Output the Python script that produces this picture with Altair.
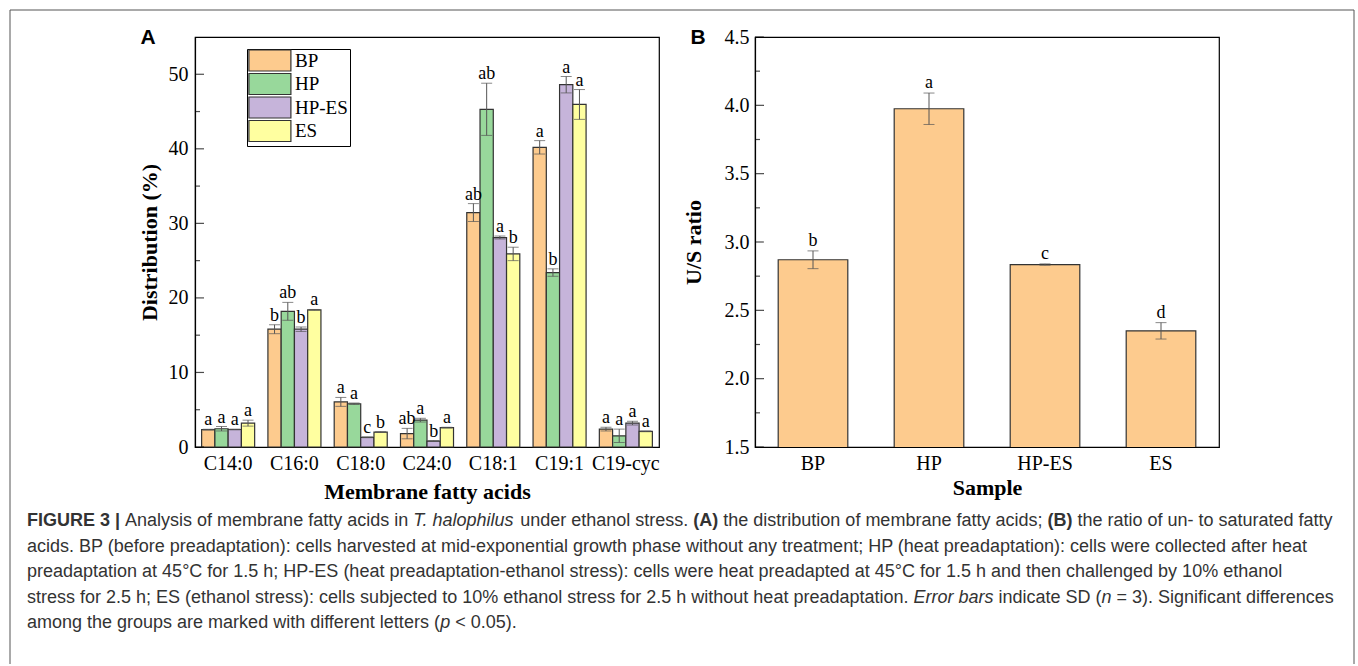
import altair as alt
import pandas as pd

# ---------------- data (panel A) ----------------
categories = ["C14:0", "C16:0", "C18:0", "C24:0", "C18:1", "C19:1", "C19-cyc"]
groups = ["BP", "HP", "HP-ES", "ES"]
colors = ["#FDCB8E", "#98D89B", "#C6B4DA", "#FFFFA0"]

bp_vals = [2.33, 15.8, 6.05, 1.8, 31.45, 40.2, 2.4]
bp_sd = [0.05, 0.6, 0.6, 0.7, 1.2, 0.9, 0.25]
hp_vals = [2.45, 18.2, 5.8, 3.6, 45.3, 23.4, 1.5]
hp_sd = [0.3, 1.2, 0.1, 0.25, 3.5, 0.5, 0.9]
hpes_vals = [2.35, 15.8, 1.3, 0.8, 28.1, 48.6, 3.2]
hpes_sd = [0.05, 0.3, 0.05, 0.05, 0.2, 1.1, 0.25]
es_vals = [3.2, 18.4, 2.0, 2.6, 25.9, 45.95, 2.1]
es_sd = [0.4, 0.05, 0.05, 0.05, 0.9, 2.0, 0.05]

bp_letters = ["a", "b", "a", "ab", "ab", "a", "a"]
hp_letters = ["a", "ab", "a", "a", "ab", "b", "a"]
hpes_letters = ["a", "b", "c", "b", "a", "a", "a"]
es_letters = ["a", "a", "b", "a", "b", "a", "a"]

yA_ticks = [0, 5, 10, 15, 20, 25, 30, 35, 40, 45, 50]

# ---------------- data (panel B) ----------------
samples = ["BP", "HP", "HP-ES", "ES"]
us_ratio = [2.87, 3.975, 2.835, 2.35]
us_sd = [0.065, 0.115, 0.005, 0.06]
us_letters = ["b", "a", "c", "d"]
yB_ticks = [1.5, 1.75, 2.0, 2.25, 2.5, 2.75, 3.0, 3.25, 3.5, 3.75, 4.0, 4.25, 4.5]

# ---------------- caption ----------------
caption_lines = [
    [("b", "FIGURE 3 |"), ("r", " Analysis of membrane fatty acids in "), ("i", "T. halophilus"),
     ("r", " under ethanol stress. "), ("b", "(A)"), ("r", " the distribution of membrane fatty acids; "),
     ("b", "(B)"), ("r", " the ratio of un- to saturated fatty")],
    [("r", "acids. BP (before preadaptation): cells harvested at mid-exponential growth phase without any treatment; HP (heat preadaptation): cells were collected after heat")],
    [("r", "preadaptation at 45\u00b0C for 1.5 h; HP-ES (heat preadaptation-ethanol stress): cells were heat preadapted at 45\u00b0C for 1.5 h and then challenged by 10% ethanol")],
    [("r", "stress for 2.5 h; ES (ethanol stress): cells subjected to 10% ethanol stress for 2.5 h without heat preadaptation. "),
     ("i", "Error bars"), ("r", " indicate SD ("), ("i", "n"), ("r", " = 3). Significant differences")],
    [("r", "among the groups are marked with different letters ("), ("i", "p"), ("r", " < 0.05).")],
]

# Arial / Liberation Sans advance widths (per 1000 em) used to lay out mixed-style caption runs
W_REG = {" ": 278, "%": 889, "(": 333, ")": 333, ",": 278, "-": 333, ".": 278, ":": 278, ";": 278,
         "<": 584, "=": 584, "|": 260, "\u00b0": 400,
         "A": 667, "B": 667, "C": 722, "D": 722, "E": 667, "F": 611, "G": 778, "H": 722, "I": 278,
         "P": 667, "R": 722, "S": 667, "T": 611, "U": 722,
         "a": 556, "b": 556, "c": 500, "d": 556, "e": 556, "f": 278, "g": 556, "h": 556, "i": 222,
         "j": 222, "k": 500, "l": 222, "m": 833, "n": 556, "o": 556, "p": 556, "q": 556, "r": 333,
         "s": 500, "t": 278, "u": 556, "v": 500, "w": 722, "x": 500, "y": 500, "z": 500}
W_BOLD = {" ": 278, "(": 333, ")": 333, "|": 280, "A": 722, "B": 722, "E": 667, "F": 611, "G": 778,
          "I": 278, "R": 722, "U": 722}


def run_width(s, style, fs):
    tab = W_BOLD if style == "b" else W_REG
    return sum(tab.get(ch, 556) for ch in s) * fs / 1000.0


# ---------------- layout constants (pixels) ----------------
PW, PH = 464, 410            # plot area of each panel
A_LEFT, A_TOP = 193, 35      # absolute origin of panel A plot area
CAP_FS = 18
CAP_X0 = 25
CAP_BASE = [524, 550, 575, 601, 626]

serif = "Liberation Serif"
sans = "Liberation Sans"

# ---------------- panel A ----------------
rows = []
for g, vals, sds, lets in [("BP", bp_vals, bp_sd, bp_letters), ("HP", hp_vals, hp_sd, hp_letters),
                           ("HP-ES", hpes_vals, hpes_sd, hpes_letters), ("ES", es_vals, es_sd, es_letters)]:
    for c, v, s, l in zip(categories, vals, sds, lets):
        rows.append(dict(cat=c, grp=g, val=v, lo=v - s, hi=v + s, letter=l))
dfA = pd.DataFrame(rows)

yscaleA = alt.Scale(domain=[0, 55], nice=False, zero=True)
xA_axis = alt.Axis(title="Membrane fatty acids", labelAngle=0, ticks=False, tickSize=0, labelPadding=6,
                   titleY=44, titleBaseline="middle", titlePadding=0)
yA_axis = alt.Axis(title="Distribution (%)", values=[0, 10, 20, 30, 40, 50], ticks=False, tickSize=0,
                   labelPadding=7, titleX=-46, titleY=PH / 2, titleAngle=270, titleBaseline="middle")

xA = alt.X("cat:N", sort=categories, scale=alt.Scale(paddingInner=0.2, paddingOuter=0.1), axis=xA_axis)
xA_plain = alt.X("cat:N", sort=categories)
xoffA = alt.XOffset("grp:N", sort=groups, scale=alt.Scale(paddingInner=0, paddingOuter=0))

baseA = alt.Chart(dfA)
barsA = baseA.mark_bar(stroke="#333333", strokeWidth=1.2).encode(
    x=xA, xOffset=xoffA,
    y=alt.Y("val:Q", scale=yscaleA, axis=yA_axis),
    color=alt.Color("grp:N", sort=groups, scale=alt.Scale(domain=groups, range=colors),
                    legend=alt.Legend(title=None, orient="none", legendX=52, legendY=12,
                                      direction="vertical", symbolType="M-1.6,-1.75H5.4V1.75H-1.6Z",
                                      symbolSize=144, symbolStrokeColor="#333333",
                                      symbolStrokeWidth=1.2, symbolOpacity=1,
                                      labelFont=serif, labelFontSize=19, labelColor="black",
                                      labelOffset=27, rowPadding=-3.5, padding=2,
                                      strokeColor="black", fillColor="white")),
)
errA = baseA.mark_rule(color="#555555", strokeWidth=1).encode(
    x=xA_plain, xOffset=xoffA, y=alt.Y("lo:Q", title="Distribution (%)"), y2="hi:Q")
capHiA = baseA.mark_tick(color="#555555", thickness=1, size=11).encode(
    x=xA_plain, xOffset=xoffA, y=alt.Y("hi:Q", title="Distribution (%)"))
capLoA = baseA.mark_tick(color="#555555", thickness=1, size=11).encode(
    x=xA_plain, xOffset=xoffA, y=alt.Y("lo:Q", title="Distribution (%)"))
letA = baseA.mark_text(font=serif, fontSize=18, baseline="bottom", dy=0, color="black").encode(
    x=xA_plain, xOffset=xoffA, y=alt.Y("hi:Q", title="Distribution (%)"), text="letter:N")

dfTA = pd.DataFrame({"val": yA_ticks})
majTA = alt.Chart(dfTA[dfTA.val % 10 == 0]).mark_tick(orient="horizontal", size=9, thickness=1.2,
                                                       color="black").encode(
    y=alt.Y("val:Q", title="Distribution (%)"), x=alt.value(4.5))
minTA = alt.Chart(dfTA[dfTA.val % 10 != 0]).mark_tick(orient="horizontal", size=5, thickness=1.2,
                                                       color="black").encode(
    y=alt.Y("val:Q", title="Distribution (%)"), x=alt.value(2.5))

one = pd.DataFrame({"k": [0]})
labelA = alt.Chart(one).mark_text(font=sans, fontSize=21, fontWeight="bold", align="center",
                                  baseline="middle", color="black").encode(
    x=alt.value(-47), y=alt.value(1), text=alt.value("A"))

# outer frame (relative to panel A plot origin)
fr = dict(color="#555555", strokeWidth=1)
frame = [
    alt.Chart(one).mark_rule(**fr).encode(x=alt.value(8 - A_LEFT), y=alt.value(8 - A_TOP), y2=alt.value(662 - A_TOP)),
    alt.Chart(one).mark_rule(**fr).encode(x=alt.value(8 - A_LEFT), x2=alt.value(1352 - A_LEFT), y=alt.value(8 - A_TOP)),
    alt.Chart(one).mark_rule(**fr).encode(x=alt.value(1352 - A_LEFT), y=alt.value(8 - A_TOP), y2=alt.value(662 - A_TOP)),
]

# caption runs
caption_layers = []
for line, base in zip(caption_lines, CAP_BASE):
    x = CAP_X0
    for style, s in line:
        lead = len(s) - len(s.lstrip(" "))
        txt = s.strip(" ")
        x_txt = x + run_width(" " * lead, style, CAP_FS)
        kw = dict(font=sans, fontSize=CAP_FS, align="left", baseline="alphabetic", color="#333333")
        if style == "b":
            kw["fontWeight"] = "bold"
        if style == "i":
            kw["fontStyle"] = "italic"
        if txt:
            caption_layers.append(alt.Chart(one).mark_text(**kw).encode(
                x=alt.value(x_txt - A_LEFT), y=alt.value(base - A_TOP), text=alt.value(txt)))
        x += run_width(s, style, CAP_FS)

panelA = alt.layer(barsA, errA, capHiA, capLoA, letA, majTA, minTA, labelA, *frame,
                   *caption_layers).properties(width=PW, height=PH)

# ---------------- panel B ----------------
dfB = pd.DataFrame({"sample": samples, "val": us_ratio,
                    "lo": [v - s for v, s in zip(us_ratio, us_sd)],
                    "hi": [v + s for v, s in zip(us_ratio, us_sd)],
                    "letter": us_letters})
yscaleB = alt.Scale(domain=[1.5, 4.5], nice=False, zero=False)
xB_axis = alt.Axis(title="Sample", labelAngle=0, ticks=False, tickSize=0, labelPadding=6,
                   titleY=40, titleBaseline="middle", titlePadding=0)
yB_axis = alt.Axis(title="U/S ratio", values=[1.5, 2.0, 2.5, 3.0, 3.5, 4.0, 4.5], format=".1f",
                   ticks=False, tickSize=0, labelPadding=6, titleX=-62, titleY=PH / 2,
                   titleAngle=270, titleBaseline="middle")
xB = alt.X("sample:N", sort=samples, scale=alt.Scale(paddingInner=0.4, paddingOuter=0.2), axis=xB_axis)
xB_plain = alt.X("sample:N", sort=samples)
baseB = alt.Chart(dfB)
barsB = baseB.mark_bar(color="#FDCB8E", stroke="#333333", strokeWidth=1.2, clip=True).encode(
    x=xB, y=alt.Y("val:Q", scale=yscaleB, axis=yB_axis))
errB = baseB.mark_rule(color="#555555", strokeWidth=1).encode(
    x=xB_plain, y=alt.Y("lo:Q", title="U/S ratio"), y2="hi:Q")
capHiB = baseB.mark_tick(color="#555555", thickness=1, size=11).encode(
    x=xB_plain, y=alt.Y("hi:Q", title="U/S ratio"))
capLoB = baseB.mark_tick(color="#555555", thickness=1, size=11).encode(
    x=xB_plain, y=alt.Y("lo:Q", title="U/S ratio"))
letB = baseB.mark_text(font=serif, fontSize=18, baseline="bottom", dy=-1, color="black").encode(
    x=xB_plain, y=alt.Y("hi:Q", title="U/S ratio"), text="letter:N")
dfTB = pd.DataFrame({"val": yB_ticks})
majTB = alt.Chart(dfTB[(dfTB.val * 2) % 1 == 0]).mark_tick(orient="horizontal", size=9, thickness=1.2,
                                                           color="black").encode(
    y=alt.Y("val:Q", title="U/S ratio"), x=alt.value(4.5))
minTB = alt.Chart(dfTB[(dfTB.val * 2) % 1 != 0]).mark_tick(orient="horizontal", size=5, thickness=1.2,
                                                           color="black").encode(
    y=alt.Y("val:Q", title="U/S ratio"), x=alt.value(2.5))
labelB = alt.Chart(one).mark_text(font=sans, fontSize=21, fontWeight="bold", align="center",
                                  baseline="middle", color="black").encode(
    x=alt.value(-57), y=alt.value(1), text=alt.value("B"))

panelB = alt.layer(barsB, errB, capHiB, capLoB, letB, majTB, minTB, labelB).properties(width=PW, height=PH)

chart = alt.hconcat(panelA, panelB, spacing=96, bounds="flush").properties(
    padding={"left": 8, "top": 8, "right": 0, "bottom": 0}, background="white"
).configure_view(stroke="black", strokeWidth=1.2).configure_axis(
    labelFont=serif, labelFontSize=20, labelColor="black",
    titleFont=serif, titleFontSize=22, titleFontWeight="bold", titleColor="black",
    domainColor="black", domainWidth=1.2, grid=False
)

chart.save("out.html", embed_options={"renderer": "svg", "actions": False})
